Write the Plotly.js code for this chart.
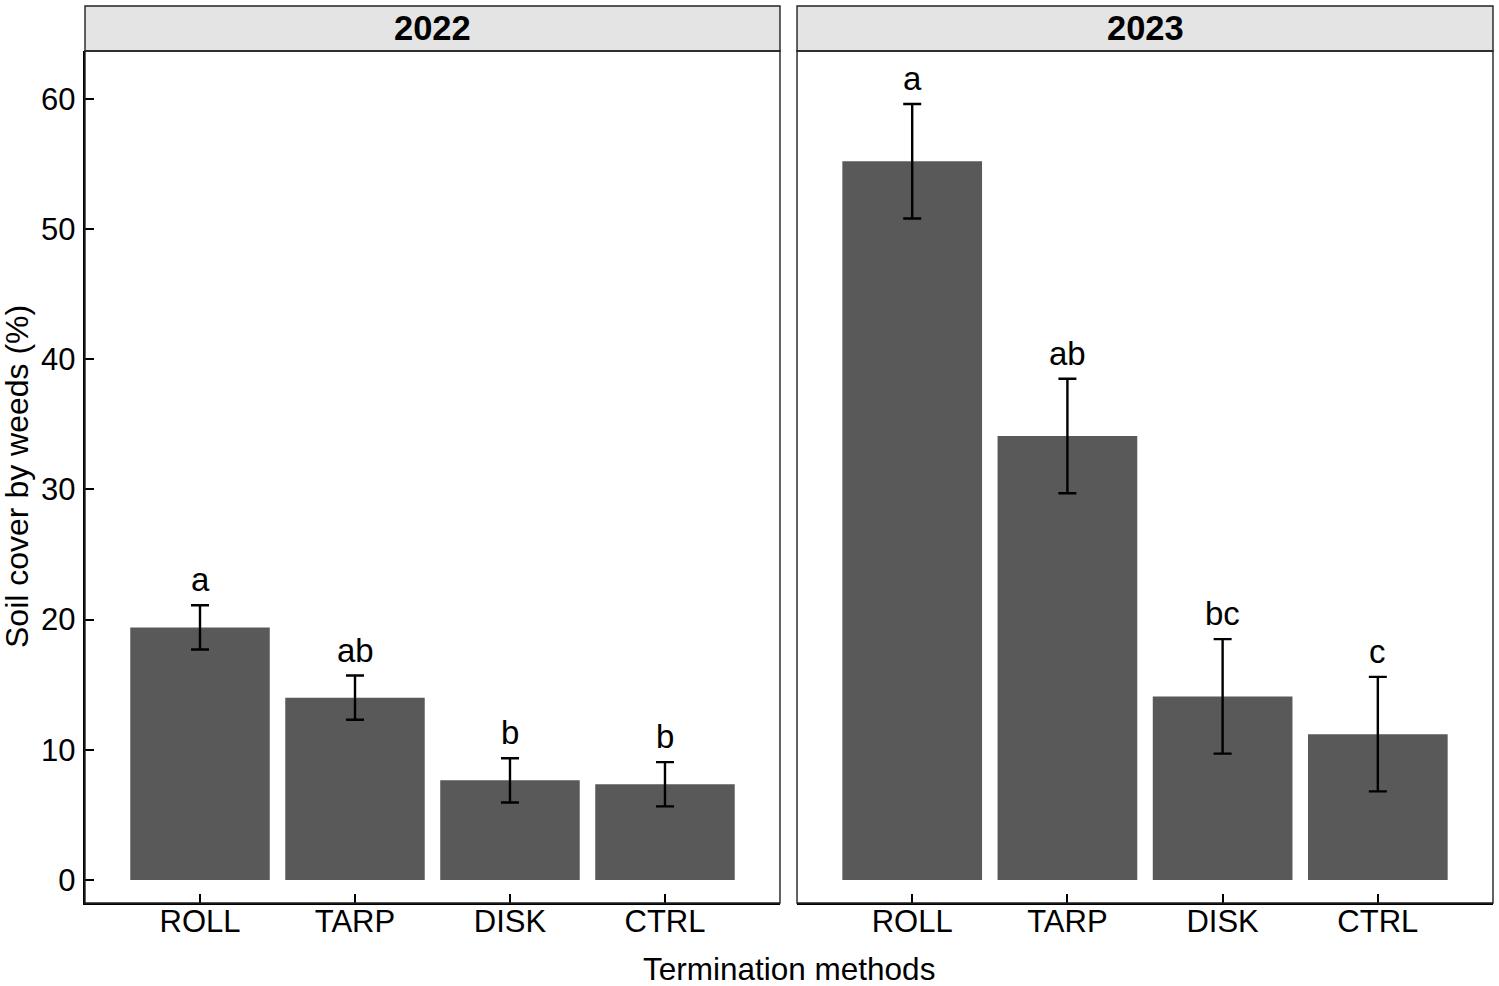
<!DOCTYPE html>
<html>
<head>
<meta charset="utf-8">
<script src="https://cdn.plot.ly/plotly-3.0.1.min.js"></script>
<style>
  html, body { margin: 0; padding: 0; background: #fff; }
</style>
</head>
<body>
<div id="chart"></div>
<script>
// termination methods on the x axis
var methods = ['ROLL', 'TARP', 'DISK', 'CTRL'];
var years = ['2022', '2023'];

// mean soil cover by weeds (%) and standard errors
var cover2022 = [19.4, 14.0, 7.65, 7.35];
var se2022 = [1.7, 1.7, 1.7, 1.7];
var cover2023 = [55.2, 34.1, 14.1, 11.2];
var se2023 = [4.4, 4.4, 4.4, 4.4];

// mean separation letters
var letters2022 = ['a', 'ab', 'b', 'b'];
var letters2023 = ['a', 'ab', 'bc', 'c'];

var font = 'Liberation Sans, Arial, Helvetica, sans-serif';
var barColor = '#595959';
var split = [0.4936, 0.5057];
var stripTop = 1 + 45 / 852;

function barTrace(y, se, xa, ya) {
  return {
    type: 'bar',
    x: methods,
    y: y,
    xaxis: xa,
    yaxis: ya,
    width: 0.9,
    marker: {color: barColor, line: {width: 0}},
    error_y: {type: 'data', array: se, visible: true, color: '#000', thickness: 2.4, width: 9},
    hoverinfo: 'x+y',
    showlegend: false
  };
}

var data = [
  barTrace(cover2022, se2022, 'x', 'y'),
  barTrace(cover2023, se2023, 'x2', 'y2')
];

var annotations = [];
function addLetters(letters, y, se, xref, yref) {
  letters.forEach(function(l, i) {
    annotations.push({
      text: l, x: methods[i], y: y[i] + se[i], xref: xref, yref: yref,
      showarrow: false, xanchor: 'center', yanchor: 'bottom', yshift: 5,
      font: {family: font, size: 33, color: '#000'}
    });
  });
}
addLetters(letters2022, cover2022, se2022, 'x', 'y');
addLetters(letters2023, cover2023, se2023, 'x2', 'y2');

// facet strip labels
annotations.push({text: years[0], xref: 'paper', yref: 'paper', x: split[0] / 2, y: (1 + stripTop) / 2,
  showarrow: false, xanchor: 'center', yanchor: 'middle',
  font: {family: font, size: 34.5, color: '#000', weight: 700}});
annotations.push({text: years[1], xref: 'paper', yref: 'paper', x: (split[1] + 1) / 2, y: (1 + stripTop) / 2,
  showarrow: false, xanchor: 'center', yanchor: 'middle',
  font: {family: font, size: 34.5, color: '#000', weight: 700}});

// shared axis titles
annotations.push({text: 'Termination methods', xref: 'paper', yref: 'paper', x: 0.5, y: 0,
  xanchor: 'center', yanchor: 'middle', yshift: -66, showarrow: false,
  font: {family: font, size: 31.5, color: '#000'}});
annotations.push({text: 'Soil cover by weeds (%)', xref: 'paper', yref: 'paper', x: 0, y: 0.5,
  xanchor: 'center', yanchor: 'middle', xshift: -68, textangle: -90, showarrow: false,
  font: {family: font, size: 32, color: '#000'}});

var shapes = [
  {type: 'rect', xref: 'paper', yref: 'paper', x0: 0, x1: split[0], y0: 1, y1: stripTop,
   fillcolor: '#e4e4e4', line: {color: '#222', width: 1.4}, layer: 'below'},
  {type: 'rect', xref: 'paper', yref: 'paper', x0: split[1], x1: 1, y0: 1, y1: stripTop,
   fillcolor: '#e4e4e4', line: {color: '#222', width: 1.4}, layer: 'below'},
  {type: 'rect', xref: 'paper', yref: 'paper', x0: 0, x1: split[0], y0: 0, y1: 1,
   line: {color: '#222', width: 1.4}},
  {type: 'rect', xref: 'paper', yref: 'paper', x0: split[1], x1: 1, y0: 0, y1: 1,
   line: {color: '#222', width: 1.4}}
];

function xAxis(domain) {
  return {
    domain: domain,
    type: 'category',
    range: [-0.742, 3.742],
    showgrid: false, zeroline: false,
    showline: true, linecolor: '#000', linewidth: 2.2,
    ticks: 'inside', ticklen: 9, tickwidth: 2, tickcolor: '#000',
    tickfont: {family: font, size: 31, color: '#000'},
    ticklabelstandoff: -10,
    fixedrange: true
  };
}

var yRange = [-1.77, 63.67];

var layout = {
  width: 1499,
  height: 986,
  margin: {l: 85, r: 6, t: 51, b: 83},
  paper_bgcolor: '#fff',
  plot_bgcolor: '#fff',
  font: {family: font, color: '#000'},
  xaxis: xAxis([0, split[0]]),
  xaxis2: xAxis([split[1], 1]),
  yaxis: {
    range: yRange, dtick: 10, tick0: 0,
    showgrid: false, zeroline: false,
    showline: true, linecolor: '#000', linewidth: 2.2,
    ticks: 'inside', ticklen: 9, tickwidth: 2, tickcolor: '#000',
    tickfont: {family: font, size: 31, color: '#000'},
    ticklabelstandoff: 1,
    fixedrange: true
  },
  yaxis2: {
    anchor: 'x2', range: yRange, dtick: 10,
    showgrid: false, zeroline: false, showline: false,
    showticklabels: false, ticks: '',
    fixedrange: true
  },
  bargap: 0.1,
  annotations: annotations,
  shapes: shapes,
  showlegend: false
};

Plotly.newPlot('chart', data, layout, {displayModeBar: false, staticPlot: true});
</script>
</body>
</html>
